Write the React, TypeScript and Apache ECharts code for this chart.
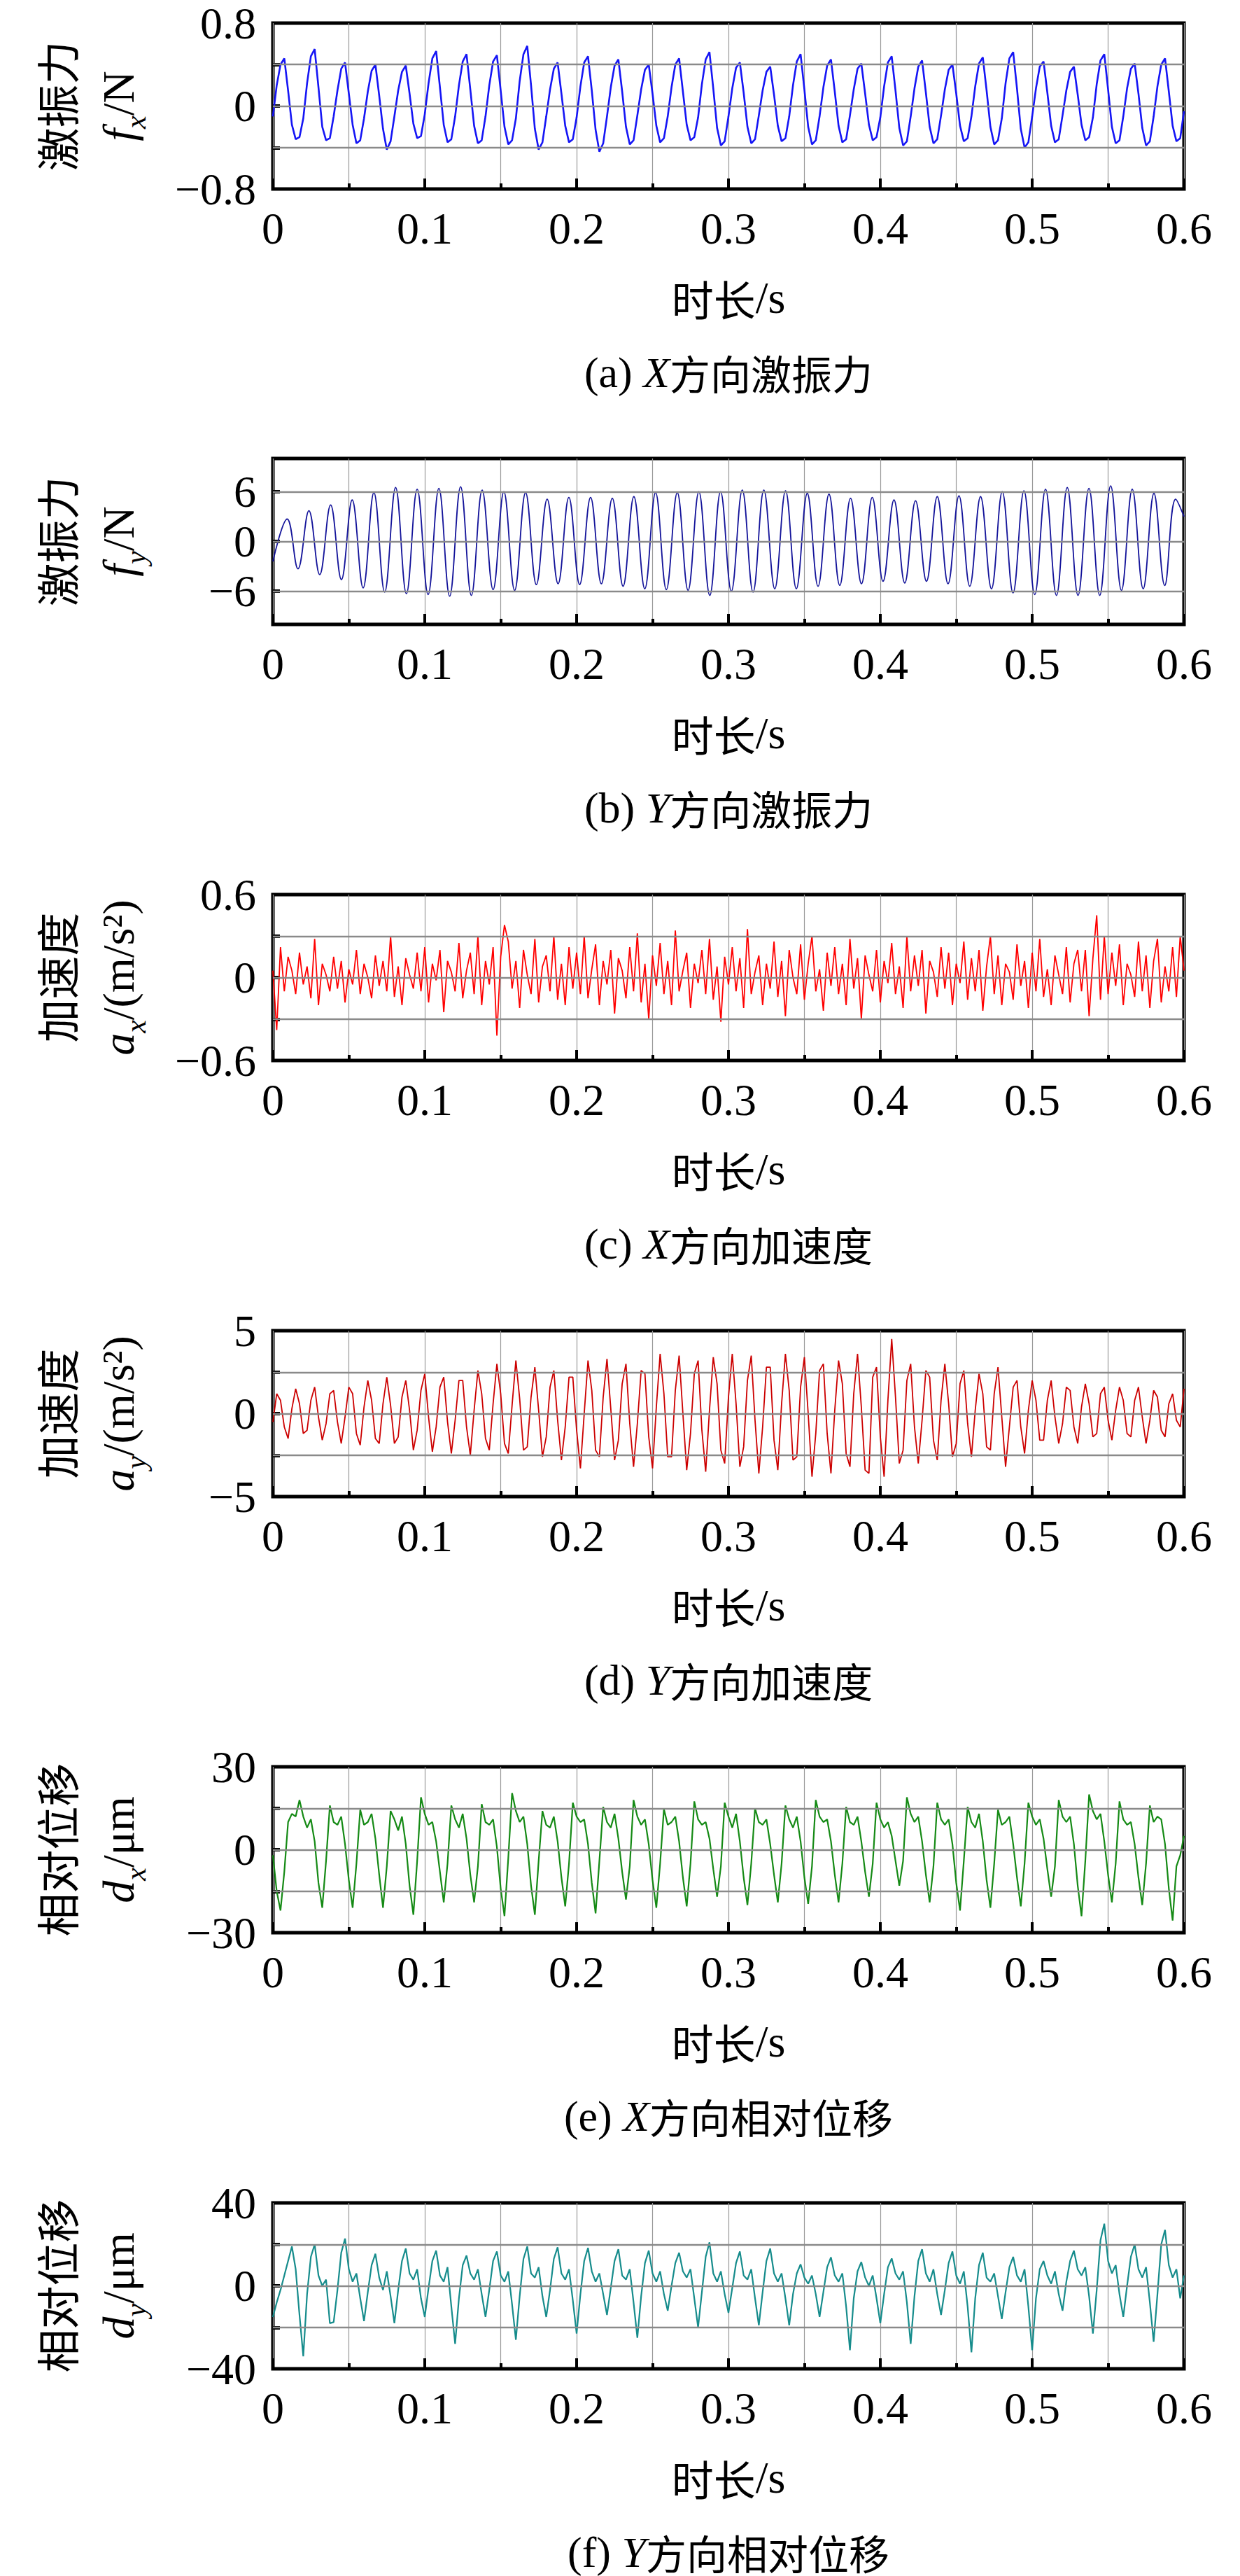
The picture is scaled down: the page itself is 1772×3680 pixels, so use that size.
import { useEffect, useRef } from "react";
import * as echarts from "echarts";

const DT = 0.0025;

// (a) X方向激振力 fx, sampled every 2.5 ms
const fx = [
  -0.10, 0.20, 0.40, 0.46, 0.15, -0.18, -0.32, -0.30,
  -0.12, 0.22, 0.48, 0.55, 0.18, -0.20, -0.33, -0.31,
  -0.10, 0.15, 0.36, 0.42, 0.12, -0.18, -0.36, -0.33,
  -0.12, 0.14, 0.34, 0.40, 0.10, -0.22, -0.42, -0.34,
  -0.10, 0.15, 0.33, 0.39, 0.12, -0.17, -0.31, -0.29,
  -0.08, 0.22, 0.46, 0.53, 0.18, -0.18, -0.35, -0.32,
  -0.10, 0.20, 0.43, 0.50, 0.16, -0.19, -0.36, -0.33,
  -0.10, 0.20, 0.43, 0.49, 0.15, -0.20, -0.37, -0.33,
  -0.12, 0.24, 0.50, 0.58, 0.20, -0.22, -0.42, -0.35,
  -0.10, 0.16, 0.36, 0.42, 0.12, -0.19, -0.35, -0.32,
  -0.11, 0.19, 0.42, 0.48, 0.15, -0.23, -0.44, -0.36,
  -0.10, 0.18, 0.39, 0.45, 0.14, -0.20, -0.37, -0.33,
  -0.09, 0.16, 0.35, 0.40, 0.12, -0.19, -0.35, -0.31,
  -0.10, 0.18, 0.40, 0.46, 0.14, -0.18, -0.33, -0.30,
  -0.11, 0.21, 0.45, 0.52, 0.17, -0.21, -0.38, -0.34,
  -0.10, 0.17, 0.37, 0.42, 0.13, -0.20, -0.36, -0.32,
  -0.09, 0.15, 0.33, 0.38, 0.11, -0.19, -0.34, -0.31,
  -0.10, 0.20, 0.43, 0.50, 0.16, -0.20, -0.37, -0.33,
  -0.10, 0.18, 0.39, 0.45, 0.14, -0.19, -0.35, -0.32,
  -0.09, 0.16, 0.36, 0.41, 0.12, -0.18, -0.33, -0.30,
  -0.11, 0.19, 0.42, 0.48, 0.15, -0.21, -0.38, -0.34,
  -0.10, 0.17, 0.38, 0.44, 0.13, -0.20, -0.36, -0.32,
  -0.09, 0.16, 0.35, 0.40, 0.12, -0.19, -0.34, -0.31,
  -0.10, 0.19, 0.41, 0.47, 0.15, -0.20, -0.37, -0.33,
  -0.12, 0.22, 0.46, 0.52, 0.17, -0.22, -0.40, -0.35,
  -0.10, 0.17, 0.38, 0.43, 0.13, -0.19, -0.35, -0.32,
  -0.09, 0.15, 0.33, 0.38, 0.11, -0.18, -0.33, -0.30,
  -0.11, 0.21, 0.44, 0.50, 0.16, -0.20, -0.36, -0.33,
  -0.10, 0.17, 0.36, 0.41, 0.12, -0.21, -0.38, -0.34,
  -0.10, 0.19, 0.40, 0.46, 0.14, -0.19, -0.34, -0.31,
  -0.05,
];

// (b) Y方向激振力 fy: peak / trough times and values
const fyPeakT = [
  0.0094, 0.0237, 0.038, 0.0522, 0.0665, 0.0808, 0.095, 0.1093, 0.1236, 0.1378,
  0.1521, 0.1664, 0.1806, 0.1949, 0.2092, 0.2235, 0.2377, 0.252, 0.2663, 0.2805,
  0.2948, 0.3091, 0.3233, 0.3376, 0.3519, 0.3662, 0.3804, 0.3947, 0.409, 0.4232,
  0.4375, 0.4518, 0.466, 0.4803, 0.4946, 0.5088, 0.5231, 0.5374, 0.5517, 0.5659,
  0.5802, 0.5945,
];
const fyPeakV = [
  2.7, 3.7, 4.4, 5.0, 5.9, 6.5, 6.3, 6.4, 6.6, 6.2,
  6.0, 5.9, 5.1, 5.3, 5.3, 5.2, 5.4, 5.9, 5.9, 6.0,
  6.0, 6.2, 6.2, 6.1, 5.8, 5.7, 5.2, 5.3, 5.0, 4.9,
  5.4, 5.5, 5.4, 6.0, 6.1, 6.3, 6.5, 6.4, 6.7, 6.3,
  5.8, 5.1,
];
const fyTroughT = [
  0.0165, 0.0308, 0.0451, 0.0594, 0.0736, 0.0879, 0.1022, 0.1164, 0.1307, 0.145,
  0.1592, 0.1735, 0.1878, 0.202, 0.2163, 0.2306, 0.2449, 0.2591, 0.2734, 0.2877,
  0.3019, 0.3162, 0.3305, 0.3447, 0.359, 0.3733, 0.3876, 0.4018, 0.4161, 0.4304,
  0.4446, 0.4589, 0.4732, 0.4874, 0.5017, 0.516, 0.5302, 0.5445, 0.5588, 0.5731,
  0.5873,
];
const fyTroughV = [
  -3.3, -4.0, -4.6, -5.6, -6.1, -6.3, -6.4, -6.6, -6.5, -5.8,
  -5.9, -5.2, -5.1, -5.2, -5.1, -5.4, -5.7, -5.8, -5.9, -6.5,
  -6.0, -6.1, -5.7, -5.7, -5.4, -5.3, -5.1, -4.8, -5.0, -4.8,
  -5.1, -5.4, -5.7, -6.2, -6.4, -6.5, -6.5, -6.5, -5.9, -5.7,
  -5.3,
];
const fyStart = -2.4;
const fyEnd = 3.0;

// (c) X方向加速度 ax
const ax = [
  0.05, -0.38, 0.22, -0.1, 0.15, 0.05, -0.12, 0.18, -0.05, 0.08, -0.15, 0.28, -0.2, 0.1, 0.02, -0.1, 0.15, -0.08, 0.12, -0.18,
  0.06, -0.05, 0.2, -0.12, 0.1, 0.0, -0.15, 0.16, -0.06, 0.12, -0.1, 0.3, -0.14, 0.08, -0.2, 0.14, 0.02, -0.08, 0.18, -0.1,
  0.22, -0.18, 0.1, -0.02, 0.2, -0.25, 0.12, 0.04, -0.1, 0.25, -0.15, 0.05, 0.18, -0.12, 0.3, -0.2, 0.12, -0.05, 0.22, -0.42,
  0.15, 0.38, 0.26, -0.08, 0.12, -0.22, 0.2, 0.02, -0.12, 0.28, -0.18, 0.08, 0.16, -0.1, 0.3, -0.16, 0.1, -0.2, 0.22, -0.08,
  0.18, -0.12, 0.3, -0.15, 0.06, 0.24, -0.2, 0.12, -0.05, 0.2, -0.26, 0.14, 0.05, -0.15, 0.22, -0.1, 0.32, -0.18, 0.1, -0.3,
  0.16, -0.06, 0.25, -0.12, 0.12, -0.2, 0.34, -0.1, 0.05, 0.18, -0.22, 0.1, -0.04, 0.2, -0.12, 0.28, -0.16, 0.08, -0.32, 0.15,
  -0.05, 0.22, -0.1, 0.14, -0.22, 0.35, -0.12, 0.04, 0.16, -0.2, 0.1, -0.08, 0.26, -0.14, 0.12, -0.28, 0.2, 0.0, -0.12, 0.24,
  -0.16, 0.1, 0.3, -0.1, 0.06, -0.24, 0.18, -0.06, 0.22, -0.12, 0.1, -0.2, 0.28, -0.08, 0.14, -0.3, 0.16, 0.02, -0.1, 0.2,
  -0.18, 0.12, -0.04, 0.25, -0.12, 0.08, -0.22, 0.3, -0.1, 0.16, -0.06, 0.2, -0.26, 0.12, 0.04, -0.14, 0.22, -0.08, 0.18, -0.2,
  0.1, -0.04, 0.26, -0.16, 0.14, -0.1, 0.2, -0.24, 0.08, 0.3, -0.12, 0.16, -0.2, 0.1, 0.04, -0.16, 0.24, -0.06, 0.12, -0.22,
  0.18, -0.1, 0.28, -0.14, 0.06, -0.2, 0.16, 0.02, -0.12, 0.22, -0.18, 0.1, 0.2, -0.1, 0.2, -0.28, 0.14, 0.45, -0.16, 0.3,
  -0.12, 0.18, -0.06, 0.24, -0.2, 0.1, 0.02, -0.14, 0.26, -0.1, 0.16, -0.22, 0.12, 0.28, -0.18, 0.08, -0.1, 0.22, -0.14, 0.3, 0.05,
];

// (d) Y方向加速度 ay
const ay = [
  -0.5, 1.2, 0.8, -0.8, -1.5, 0.3, 1.5, 0.6, -1.2, -1.0, 0.8, 1.6, -0.2, -1.6, -0.6, 1.2, 1.4, -0.5, -1.8, -0.2,
  1.6, 1.2, -1.2, -1.9, 0.4, 2.0, 0.8, -1.5, -1.8, 0.6, 2.2, 0.5, -1.8, -1.4, 1.0, 2.0, 0.2, -2.2, -1.0, 1.4,
  2.4, -0.2, -2.3, -0.8, 1.6, 2.2, -0.5, -2.4, -0.4, 2.0, 2.0, -0.8, -2.5, 0.2, 2.6, 1.2, -1.5, -2.2, 0.6, 3.0,
  1.2, -1.8, -2.4, 0.5, 3.2, 0.9, -2.2, -2.0, 1.0, 2.8, 0.2, -2.6, -1.4, 1.6, 2.6, -0.4, -2.8, -0.8, 2.2, 2.2,
  -1.0, -3.3, 0.0, 3.2, 1.4, -2.2, -2.6, 1.0, 3.3, 0.3, -2.8, -1.6, 1.8, 3.0, -0.6, -3.2, -0.6, 2.6, 2.4, -1.4,
  -3.3, 0.4, 3.6, 1.2, -2.6, -2.6, 1.4, 3.5, 0.0, -3.4, -1.2, 2.4, 3.2, -1.0, -3.5, 0.2, 3.4, 1.8, -2.2, -3.0,
  1.0, 3.6, 0.6, -3.2, -2.0, 2.0, 3.5, -0.4, -3.6, -0.8, 2.8, 2.8, -1.6, -3.4, 0.6, 3.6, 1.4, -2.8, -2.6, 1.6,
  3.4, 0.0, -3.8, -1.2, 2.6, 3.0, -1.2, -3.6, 0.2, 3.2, 1.8, -2.4, -3.2, 1.2, 3.6, 0.4, -3.4, -3.6, 2.2, 2.8,
  -1.4, -3.8, 0.8, 4.5, 1.0, -3.0, -2.2, 2.0, 3.0, -0.8, -3.0, -0.4, 2.6, 2.2, -1.6, -2.8, 0.8, 3.0, 0.6, -2.6,
  -1.8, 1.8, 2.6, -0.6, -2.6, 0.2, 2.4, 1.2, -2.0, -2.2, 1.2, 2.8, -0.2, -3.2, -0.8, 1.6, 2.0, -0.8, -2.4, 0.2,
  2.0, 0.8, -1.6, -1.6, 0.8, 2.0, -0.2, -1.8, -0.6, 1.6, 1.4, -0.8, -1.8, 0.4, 1.8, 0.6, -1.4, -1.2, 1.2, 1.6,
  -0.4, -1.6, 0.2, 1.6, 0.8, -1.2, -1.4, 0.8, 1.6, -0.2, -1.8, -0.4, 1.4, 1.0, -1.0, -1.4, 0.6, 1.2, -0.4, -0.8, 1.5,
];

// (e) X方向相对位移 dx
const dx = [
  -2, -15, -22, -8, 10, 13, 12,
  18, 12, 8, 11, 3, -12, -21, -4,
  16, 10, 9, 12, 2, -11, -21, -5,
  14.5, 9, 10, 13, 4, -9, -21, -6,
  14, 11, 7, 12, 2, -13, -23.5, -4,
  19, 13, 9, 10, 3, -8, -19, -5,
  16, 11, 8, 13, 4, -9, -19, -6,
  16.5, 10, 9, 11, 1, -14, -24, -3,
  20.5, 14, 10, 12, 2, -13, -23.5, -4,
  14, 9, 8, 12, 3, -10, -20.5, -5,
  17, 12, 10, 11, 2, -12, -23, -4,
  15.5, 10, 8, 13, 4, -8, -18, -6,
  18, 12, 9, 11, 2, -11, -21, -5,
  14.7, 9, 10, 12, 3, -10, -20.5, -5,
  17.5, 11, 9, 10, 4, -7, -17, -6,
  17, 12, 8, 13, 3, -10, -20, -5,
  15, 10, 9, 11, 2, -9, -19, -5,
  16, 11, 8, 12, 3, -10, -19.6, -6,
  18, 12, 10, 11, 3, -9, -19, -5,
  15.5, 10, 9, 12, 3, -8, -17, -5,
  17, 11, 8, 10, 5, -4, -13, -4,
  19, 13, 10, 12, 3, -9, -19, -6,
  17, 11, 9, 11, 2, -12, -22, -4,
  15.5, 10, 8, 13, 3, -11, -21, -5,
  14.5, 9, 10, 12, 2, -10, -20.5, -5,
  17, 12, 9, 11, 4, -7, -17, -6,
  18, 12, 10, 12, 2, -13, -24, -4,
  20, 14, 11, 13, 3, -9, -19, -5,
  17.5, 11, 9, 10, 2, -10, -20, -5,
  16, 10, 12, 11, 2, -14, -25.6, -6,
  -2, 5,
];

// (f) Y方向相对位移 dy
const dy = [
  -15, -8, -2, 5, 12, 19, 8, -14,
  -34, -4, 14, 20, 5, 0, 3, -18,
  -17.5, -2, 16, 22.8, 8, 2, 6, -6,
  -17, -3, 10, 15.5, 4, -2, 7, -5,
  -18, -2, 12, 18, 6, 3, 8, -6,
  -15, -1, 12, 17, 5, 2, 9, -10,
  -28, -6, 10, 14.6, 6, 3, 8, -4,
  -15, -2, 12, 16.6, 5, 2, 7, -9,
  -26, -5, 13, 19, 6, 4, 9, -5,
  -15, -2, 13, 18.6, 6, 3, 8, -7,
  -23, -4, 12, 18.3, 7, 2, 6, -4,
  -14, -1, 12, 17.7, 5, 3, 8, -8,
  -25, -5, 11, 17, 6, 2, 7, -4,
  -12, 0, 11, 16, 7, 4, 8, -6,
  -20, -3, 14, 21, 6, 2, 7, -4,
  -13, -1, 11, 16.6, 5, 3, 8, -6,
  -19, -3, 12, 18, 6, 2, 6, -6,
  -19, -4, 6, 10.4, 4, 1, 5, -4,
  -15, -3, 9, 13.8, 5, 2, 6, -10,
  -31, -6, 7, 11.5, 4, 0, 5, -6,
  -18, -4, 9, 13.2, 6, 3, 7, -8,
  -28, -5, 12, 17.7, 6, 2, 8, -4,
  -14, -2, 11, 16.6, 5, 1, 7, -10,
  -32, -6, 10, 16, 4, 2, 6, -5,
  -16, -3, 9, 14, 5, 2, 8, -10,
  -31, -6, 8, 12, 5, 1, 7, -4,
  -12, 2, 12, 17, 8, 5, 9, -5,
  -23, -2, 22, 30, 12, 6, 10, -4,
  -15, 0, 14, 20, 8, 4, 9, -8,
  -27, -4, 20, 27, 10, 4, 8, -6,
  5,
];

const xTicks = [0, 0.1, 0.2, 0.3, 0.4, 0.5, 0.6];

const panels = [
  { data: fx, range: 0.8, labels: [-0.8, 0, 0.8], grids: [-0.4, 0, 0.4], color: "#1515f5", width: 2.6, zh: "激振力", sym: "f", sub: "x", unit: "/N", cap: "(a) ", dir: "X", capZh: "方向激振力" },
  { data: null, range: 10, labels: [-6, 0, 6], grids: [-6, 0, 6], color: "#14149a", width: 1.8, zh: "激振力", sym: "f", sub: "y", unit: "/N", cap: "(b) ", dir: "Y", capZh: "方向激振力" },
  { data: ax, range: 0.6, labels: [-0.6, 0, 0.6], grids: [-0.3, 0, 0.3], color: "#ff0000", width: 1.8, zh: "加速度", sym: "a", sub: "x", unit: "/(m/s²)", cap: "(c) ", dir: "X", capZh: "方向加速度" },
  { data: ay, range: 5, labels: [-5, 0, 5], grids: [-2.5, 0, 2.5], color: "#cc0000", width: 1.8, zh: "加速度", sym: "a", sub: "y", unit: "/(m/s²)", cap: "(d) ", dir: "Y", capZh: "方向加速度" },
  { data: dx, range: 30, labels: [-30, 0, 30], grids: [-15, 0, 15], color: "#158a15", width: 2.2, zh: "相对位移", sym: "d", sub: "x", unit: "/μm", cap: "(e) ", dir: "X", capZh: "方向相对位移" },
  { data: dy, range: 40, labels: [-40, 0, 40], grids: [-20, 0, 20], color: "#168c8c", width: 2.2, zh: "相对位移", sym: "d", sub: "y", unit: "/μm", cap: "(f) ", dir: "Y", capZh: "方向相对位移" },
];

const TOPS = [33, 655, 1278, 1901, 2524, 3147];
const LEFT = 390;
const W = 1302;
const H = 237;
const SERIF = "Liberation Serif";
const CJK = "Noto Sans CJK SC";

function fyPoints() {
  const pts: number[][] = [[0, fyStart]];
  for (let i = 0; i < fyPeakT.length; i++) {
    pts.push([fyPeakT[i], fyPeakV[i]]);
    if (i < fyTroughT.length) pts.push([fyTroughT[i], fyTroughV[i]]);
  }
  pts.push([0.6, fyEnd]);
  return pts;
}

const fmt = (v: number) => (v < 0 ? "−" + String(-v) : String(v));

export default function App() {
  const ref = useRef<HTMLDivElement | null>(null);

  useEffect(() => {
    document.body.style.margin = "0";
    if (!ref.current) return;
    const chart = echarts.init(ref.current, null, { renderer: "svg" });

    const grid = panels.map((_, i) => ({
      left: LEFT, top: TOPS[i], width: W, height: H,
      show: true, borderColor: "#000", borderWidth: 5, backgroundColor: "transparent",
    }));

    const xAxis = panels.map((_, i) => ({
      type: "value", gridIndex: i, min: 0, max: 0.6, interval: 0.1,
      axisLine: { show: false, onZero: false },
      axisTick: { show: true, inside: true, length: 15, lineStyle: { color: "#000", width: 4 } },
      minorTick: { show: true, splitNumber: 2, length: 8, lineStyle: { color: "#000", width: 4 } },
      splitLine: { show: true, lineStyle: { color: "#999", width: 1.2 } },
      minorSplitLine: { show: true, lineStyle: { color: "#999", width: 1.2 } },
      axisLabel: { margin: 24, fontSize: 64, fontFamily: SERIF, color: "#000", customValues: xTicks },
    }));

    const yAxis = panels.map((p, i) => ({
      type: "value", gridIndex: i, min: -p.range, max: p.range,
      axisLine: { show: false, onZero: false },
      splitLine: { show: false },
      axisTick: { show: true, inside: true, length: 10, customValues: p.grids, lineStyle: { color: "#000", width: 5 } },
      axisLabel: { margin: 24, fontSize: 64, fontFamily: SERIF, color: "#000", customValues: p.labels, formatter: fmt },
    }));

    const series = panels.map((p, i) => ({
      type: "line", xAxisIndex: i, yAxisIndex: i,
      data: p.data ? p.data.map((v, k) => [k * DT, v]) : fyPoints(),
      smooth: p.data ? false : 0.4,
      showSymbol: false, symbol: "none",
      lineStyle: { color: p.color, width: p.width },
      markLine: {
        silent: true, symbol: "none", label: { show: false },
        lineStyle: { color: "#8a8a8a", width: 2.4, type: "solid" },
        data: p.grids.map((g) => ({ yAxis: g })),
      },
    }));

    const graphic: any[] = [];
    panels.forEach((p, i) => {
      const cy = TOPS[i] + H / 2;
      const bottom = TOPS[i] + H;
      graphic.push({
        type: "text", x: 80, y: cy, rotation: Math.PI / 2,
        style: { text: p.zh, fontSize: 62, fontFamily: CJK, fill: "#000", align: "center", verticalAlign: "middle" },
      });
      graphic.push({
        type: "text", x: 166, y: cy, rotation: Math.PI / 2,
        style: {
          text: `{i|${p.sym}}{s|${p.sub}}{n|${p.unit}}`,
          align: "center", verticalAlign: "middle", fill: "#000",
          rich: {
            i: { fontSize: 64, fontStyle: "italic", fontFamily: SERIF, fill: "#000", lineHeight: 70, verticalAlign: "bottom" },
            s: { fontSize: 42, fontStyle: "italic", fontFamily: SERIF, fill: "#000", lineHeight: 70, verticalAlign: "bottom", padding: [0, 0, -14, 0] },
            n: { fontSize: 64, fontFamily: SERIF, fill: "#000", lineHeight: 70, verticalAlign: "bottom" },
          },
        },
      });
      graphic.push({
        type: "text", x: LEFT + W / 2, y: bottom + 155,
        style: {
          text: "{z|时长}{n|/s}", align: "center", verticalAlign: "middle",
          rich: {
            z: { fontSize: 60, fontFamily: CJK, fill: "#000" },
            n: { fontSize: 64, fontFamily: SERIF, fill: "#000" },
          },
        },
      });
      graphic.push({
        type: "text", x: LEFT + W / 2, y: bottom + 262,
        style: {
          text: `{n|${p.cap}}{i|${p.dir}}{z|${p.capZh}}`, align: "center", verticalAlign: "middle",
          rich: {
            n: { fontSize: 62, fontFamily: SERIF, fill: "#000" },
            i: { fontSize: 62, fontFamily: SERIF, fontStyle: "italic", fill: "#000" },
            z: { fontSize: 58, fontFamily: CJK, fill: "#000" },
          },
        },
      });
    });

    chart.setOption({
      animation: false,
      backgroundColor: "#fff",
      grid, xAxis, yAxis, series, graphic,
    } as any);

    return () => chart.dispose();
  }, []);

  return <div ref={ref} style={{ width: 1772, height: 3680 }} />;
}
